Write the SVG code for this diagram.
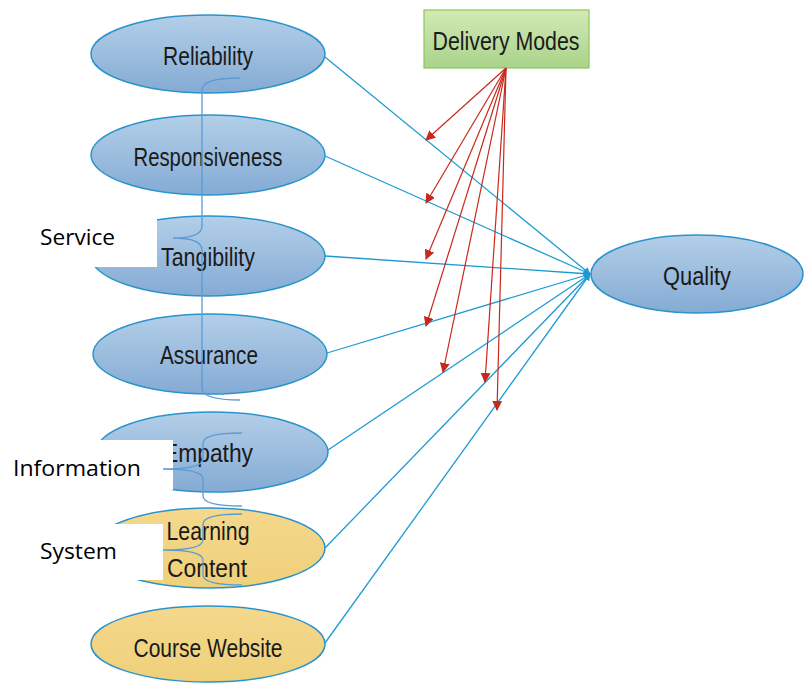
<svg xmlns="http://www.w3.org/2000/svg" width="807" height="683" viewBox="0 0 807 683">
  <style>
    .blue { fill: url(#gBlue); stroke: #2a93cc; stroke-width: 1.5; }
    .gold { fill: url(#gGold); stroke: #2a93cc; stroke-width: 1.5; }
    .lbl { font-family: "Liberation Sans", Arial, sans-serif; font-size: 26px; fill: #1a1a1a; text-anchor: middle; }
    .side { font-family: "Open Sans", "Noto Sans", sans-serif; font-size: 22px; fill: #000; }
    .cover { fill: #ffffff; stroke: none; }
    .brace { fill: none; stroke: #5b9bd5; stroke-width: 1.3; }
    .link { stroke: #1e9ad3; stroke-width: 1.3; fill: none; }
    .mode { stroke: #c8281c; stroke-width: 1.2; fill: none; }
  </style>
  <defs>
    <linearGradient id="gBlue" x1="0" y1="0" x2="0" y2="1">
      <stop offset="0" stop-color="#b3cfe8"/>
      <stop offset="1" stop-color="#84abd4"/>
    </linearGradient>
    <linearGradient id="gGold" x1="0" y1="0" x2="0" y2="1">
      <stop offset="0" stop-color="#f4d88c"/>
      <stop offset="1" stop-color="#efd07a"/>
    </linearGradient>
    <linearGradient id="gGreen" x1="0" y1="0" x2="0" y2="1">
      <stop offset="0" stop-color="#d3e9b6"/>
      <stop offset="1" stop-color="#a9d38a"/>
    </linearGradient>
    <marker id="arrBlue" viewBox="0 0 10 10" refX="9" refY="5" markerWidth="7" markerHeight="7" markerUnits="userSpaceOnUse" orient="auto">
      <path d="M0,0 L10,5 L0,10 z" fill="#1e9ad3"/>
    </marker>
    <marker id="arrRed" viewBox="0 0 10 10" refX="9" refY="5" markerWidth="10" markerHeight="10" markerUnits="userSpaceOnUse" orient="auto">
      <path d="M0,0 L10,5 L0,10 z" fill="#c8281c"/>
    </marker>
  </defs>

  <!-- factor nodes -->
  <g id="reliability">
    <ellipse class="blue" cx="208" cy="54" rx="117" ry="39"/>
    <text class="lbl" x="208" y="65" textLength="90" lengthAdjust="spacingAndGlyphs">Reliability</text>
  </g>
  <g id="responsiveness">
    <ellipse class="blue" cx="208" cy="155" rx="117" ry="40"/>
    <text class="lbl" x="208" y="166" textLength="149" lengthAdjust="spacingAndGlyphs">Responsiveness</text>
  </g>
  <g id="tangibility">
    <ellipse class="blue" cx="208" cy="256" rx="117" ry="40"/>
    <text class="lbl" x="208" y="266" textLength="94" lengthAdjust="spacingAndGlyphs">Tangibility</text>
  </g>
  <g id="assurance">
    <ellipse class="blue" cx="210" cy="354" rx="117" ry="40"/>
    <text class="lbl" x="209" y="364" textLength="98" lengthAdjust="spacingAndGlyphs">Assurance</text>
  </g>
  <g id="empathy">
    <ellipse class="blue" cx="212" cy="452" rx="116" ry="40"/>
    <text class="lbl" x="208" y="462" textLength="90" lengthAdjust="spacingAndGlyphs">Empathy</text>
  </g>
  <g id="learning-content">
    <ellipse class="gold" cx="209" cy="548" rx="116" ry="40"/>
    <text class="lbl" x="208" y="540" textLength="83" lengthAdjust="spacingAndGlyphs">Learning</text>
    <text class="lbl" x="207" y="577" textLength="80" lengthAdjust="spacingAndGlyphs">Content</text>
  </g>
  <g id="course-website">
    <ellipse class="gold" cx="208" cy="644" rx="117" ry="38"/>
    <text class="lbl" x="208" y="657" textLength="149" lengthAdjust="spacingAndGlyphs">Course Website</text>
  </g>

  <!-- group labels with their brackets -->
  <g id="group-service">
    <rect class="cover" x="0" y="205" width="157" height="62"/>
    <text class="side" x="40" y="245" textLength="75" lengthAdjust="spacingAndGlyphs">Service</text>
    <path class="brace" d="M240,78 Q202,78 202,90 L202,226 Q202,238 173,238 Q202,238 202,250 L202,388 Q202,400 240,400"/>
  </g>
  <g id="group-information">
    <rect class="cover" x="0" y="440" width="173" height="50"/>
    <text class="side" x="13" y="476" textLength="128" lengthAdjust="spacingAndGlyphs">Information</text>
    <path class="brace" d="M242,433 Q203,433 203,443 L203,459 Q203,469 163,469 Q203,469 203,479 L203,496 Q203,506 242,506"/>
  </g>
  <g id="group-system">
    <rect class="cover" x="0" y="524" width="163" height="56"/>
    <text class="side" x="40" y="559" textLength="77" lengthAdjust="spacingAndGlyphs">System</text>
    <path class="brace" d="M242,514 Q203,514 203,524 L203,540 Q203,550 163,550 Q203,550 203,560 L203,575 Q203,585 242,585"/>
  </g>

  <!-- outcome and moderator -->
  <g id="quality">
    <ellipse class="blue" cx="697" cy="274" rx="106" ry="39"/>
    <text class="lbl" x="697" y="285" textLength="68" lengthAdjust="spacingAndGlyphs">Quality</text>
  </g>
  <g id="delivery-modes">
    <rect x="424" y="10" width="165" height="58" fill="url(#gGreen)" stroke="#8cc65a" stroke-width="1.2"/>
    <text class="lbl" x="506" y="50" textLength="147" lengthAdjust="spacingAndGlyphs">Delivery Modes</text>
  </g>

  <!-- connectors -->
  <g id="connectors">
    <line class="link" x1="325" y1="57" x2="590" y2="274" marker-end="url(#arrBlue)"/>
    <line class="link" x1="325" y1="156" x2="590" y2="274" marker-end="url(#arrBlue)"/>
    <line class="link" x1="325" y1="256" x2="590" y2="274" marker-end="url(#arrBlue)"/>
    <line class="link" x1="327" y1="353" x2="590" y2="274" marker-end="url(#arrBlue)"/>
    <line class="link" x1="328" y1="450" x2="590" y2="274" marker-end="url(#arrBlue)"/>
    <line class="link" x1="325" y1="548" x2="590" y2="274" marker-end="url(#arrBlue)"/>
    <line class="link" x1="325" y1="643" x2="590" y2="274" marker-end="url(#arrBlue)"/>

    <line class="mode" x1="506" y1="68" x2="426" y2="140" marker-end="url(#arrRed)"/>
    <line class="mode" x1="506" y1="68" x2="426" y2="203" marker-end="url(#arrRed)"/>
    <line class="mode" x1="506" y1="68" x2="426" y2="259" marker-end="url(#arrRed)"/>
    <line class="mode" x1="506" y1="68" x2="426" y2="326" marker-end="url(#arrRed)"/>
    <line class="mode" x1="506" y1="68" x2="443" y2="372" marker-end="url(#arrRed)"/>
    <line class="mode" x1="506" y1="68" x2="485" y2="382" marker-end="url(#arrRed)"/>
    <line class="mode" x1="506" y1="68" x2="497" y2="410" marker-end="url(#arrRed)"/>
  </g>
</svg>
